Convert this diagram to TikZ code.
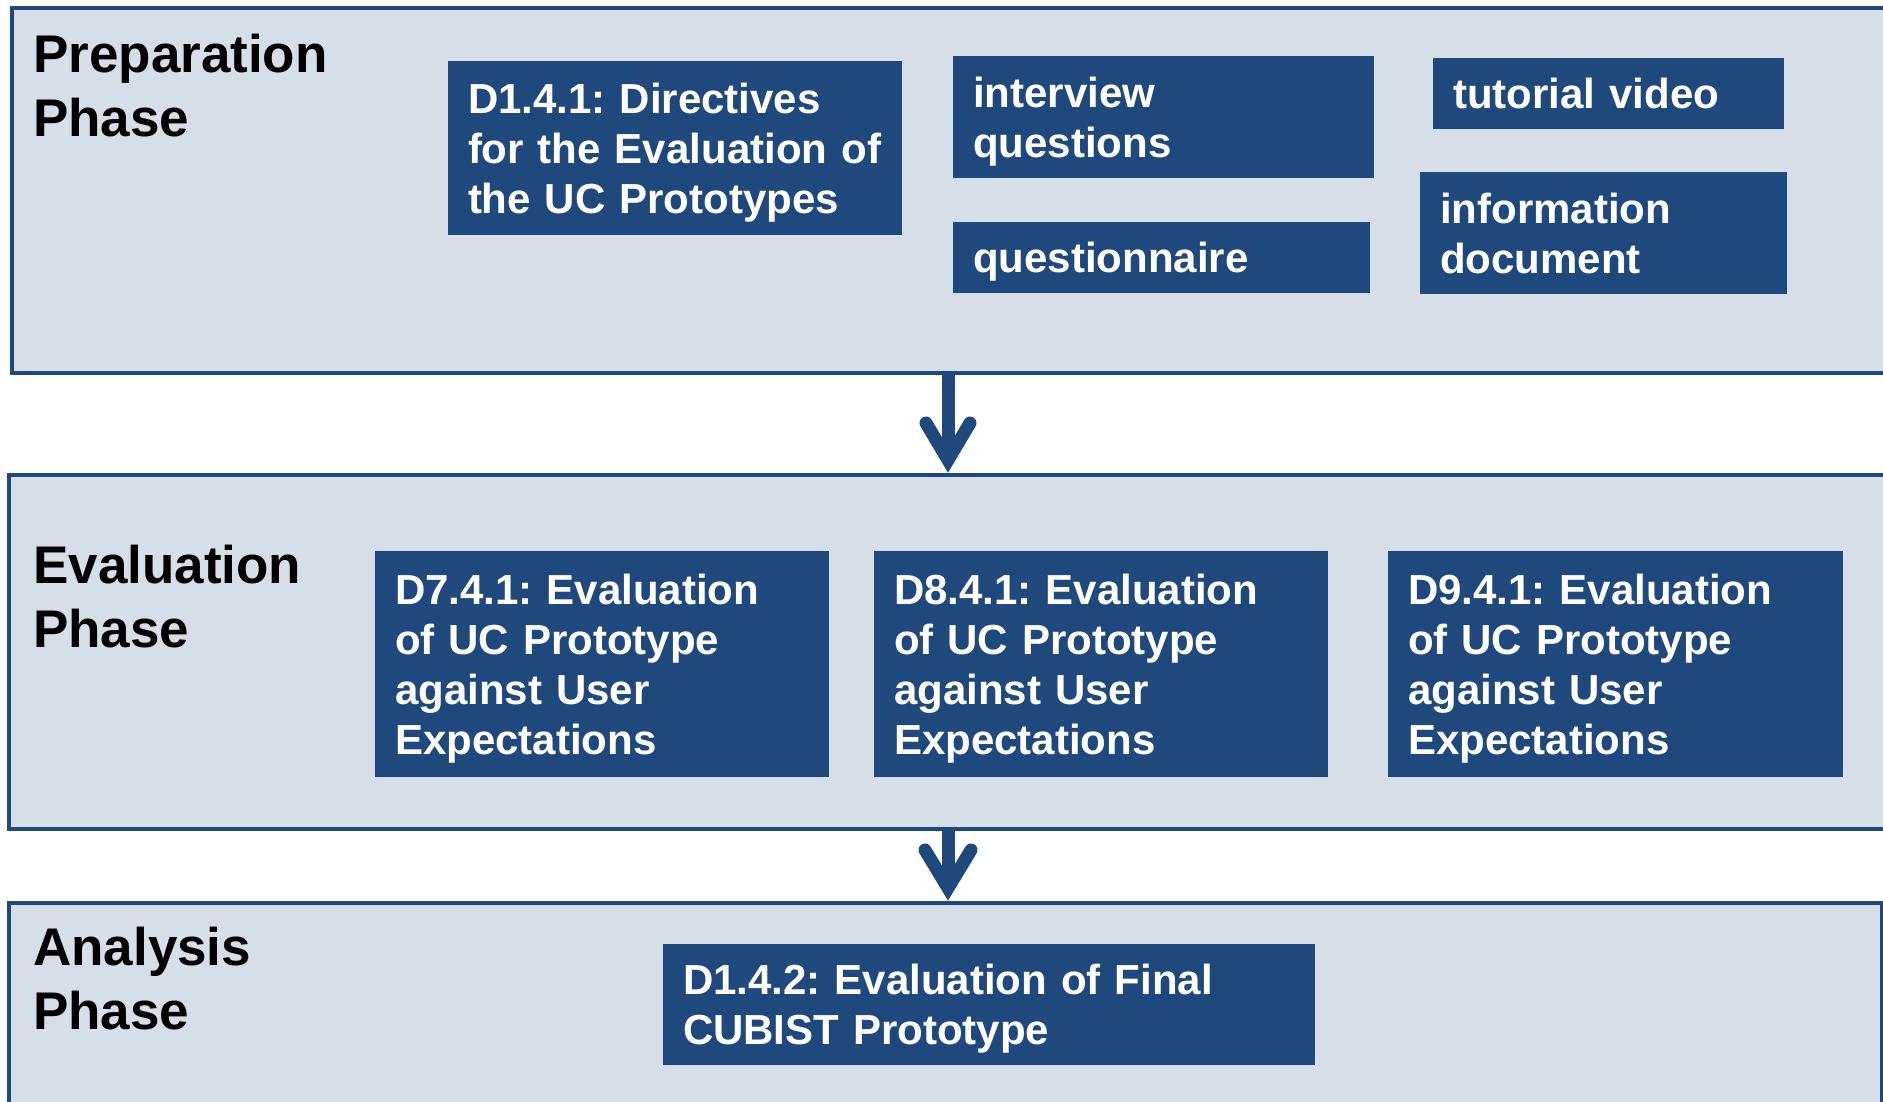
\documentclass[tikz,border=0pt]{standalone}
\usepackage{fontspec}
\setmainfont{Liberation Sans}
\usetikzlibrary{calc}
\definecolor{panelfill}{RGB}{214,222,232}
\definecolor{navy}{RGB}{31,73,125}
\newcommand{\bxtop}{\rule{0pt}{40pt}}
\newcommand{\bxbot}{\rule[-10pt]{0pt}{10pt}}
\newcommand{\tltop}{\rule{0pt}{45pt}}
\frenchspacing
\begin{document}
\begin{tikzpicture}[x=1pt,y=-1pt,
  panel/.style={draw=navy, fill=panelfill, line width=4pt, rectangle, anchor=north west, inner sep=0pt, outer sep=0pt},
  box/.style={fill=navy, text=white, rectangle, anchor=north west, inner xsep=20pt, inner ysep=0pt, outer sep=0pt, align=left, font=\frenchspacing\fontsize{42}{50}\selectfont\bfseries},
  phasetitle/.style={anchor=north west, inner sep=0pt, align=left, text=black, font=\fontsize{53}{64}\selectfont\bfseries},
  shaft/.style={draw=navy, line width=13pt},
  wing/.style={draw=navy, line width=13pt, line cap=round, line join=miter}
]
\useasboundingbox (0,0) rectangle (1883,1101);
\clip (0,0) rectangle (1883,1101);

% panels
\node[panel, minimum width=1920pt, minimum height=365pt] (prep) at (12,8) {};
\node[panel, minimum width=1920pt, minimum height=354pt] (eval) at (9,475) {};
\node[panel, minimum width=1873pt, minimum height=260pt] (anal) at (9,903) {};

% phase titles
\node[phasetitle] (preptitle) at (33,27) {\tltop Preparation\\Phase};
\node[phasetitle] (evaltitle) at (33,538) {\tltop Evaluation\\Phase};
\node[phasetitle] (analtitle) at (33,920) {\tltop Analysis\\Phase};

% arrows
\coordinate (ax) at (948,0);
\coordinate (tipA) at ($(eval.north -| ax)+(0,-2)$);
\coordinate (apexA) at ($(tipA)+(0,-13)$);
\draw[shaft] (prep.south -| ax) -- (apexA);
\draw[wing] ($(apexA)+(-22,-37)$) -- (apexA) -- ($(apexA)+(22,-37)$);

\coordinate (tipB) at ($(anal.north -| ax)+(0,-2)$);
\coordinate (apexB) at ($(tipB)+(0,-13)$);
\draw[shaft] (eval.south -| ax) -- (apexB);
\draw[wing] ($(apexB)+(-23,-38)$) -- (apexB) -- ($(apexB)+(23,-38)$);

% preparation boxes
\node[box, minimum width=454pt, minimum height=174pt, text width=414pt] (d141) at (448,61)
  {\bxtop D1.4.1: Directives\\for the Evaluation of\\the UC Prototypes\bxbot};
\node[box, minimum width=421pt, minimum height=122pt, text width=381pt] (interview) at (953,56)
  {\bxtop interview\\questions\bxbot};
\node[box, minimum width=417pt, minimum height=71pt, text width=377pt] (questionnaire) at (953,222)
  {\bxtop questionnaire\bxbot};
\node[box, minimum width=351pt, minimum height=71pt, text width=311pt] (tutorial) at (1433,58)
  {\bxtop tutorial video\bxbot};
\node[box, minimum width=367pt, minimum height=122pt, text width=327pt] (infodoc) at (1420,172)
  {\bxtop information\\document\bxbot};

% evaluation boxes
\node[box, minimum width=454pt, minimum height=226pt, text width=414pt] (d741) at (375,551)
  {\bxtop D7.4.1: Evaluation\\of UC Prototype\\against User\\Expectations\bxbot};
\node[box, minimum width=454pt, minimum height=226pt, text width=414pt] (d841) at (874,551)
  {\bxtop D8.4.1: Evaluation\\of UC Prototype\\against User\\Expectations\bxbot};
\node[box, minimum width=455pt, minimum height=226pt, text width=415pt] (d941) at (1388,551)
  {\bxtop D9.4.1: Evaluation\\of UC Prototype\\against User\\Expectations\bxbot};

% analysis box
\node[box, minimum width=652pt, minimum height=121pt, text width=612pt] (d142) at (663,944)
  {\bxtop D1.4.2: Evaluation of Final\\CUBIST Prototype\bxbot};
\end{tikzpicture}
\end{document}
